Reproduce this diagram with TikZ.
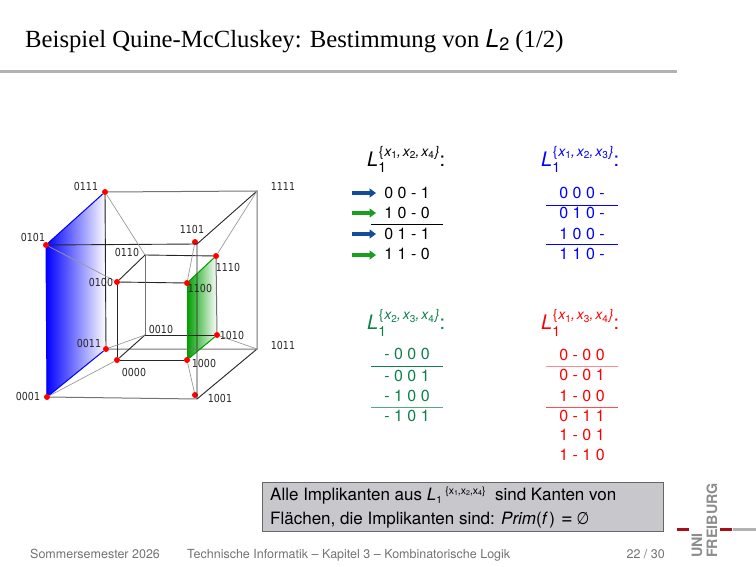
\documentclass[tikz,border=0pt]{standalone}
\usepackage{fontspec}
\setmainfont{Liberation Serif}
\newfontfamily\hv{TeX Gyre Heros}
\newfontfamily\djv[FakeStretch=0.86]{DejaVu Sans}
\usetikzlibrary{arrows.meta}
\definecolor{tgreen}{rgb}{0.05,0.5,0.3}
\definecolor{boxgray}{rgb}{0.78,0.78,0.8}
\definecolor{frgray}{rgb}{0.7,0.7,0.7}
\definecolor{footgray}{rgb}{0.45,0.45,0.45}
\definecolor{unired}{rgb}{0.66,0.05,0.1}
\definecolor{arrblue}{rgb}{0.08,0.3,0.6}
\definecolor{arrgreen}{rgb}{0.1,0.62,0.12}
\definecolor{facegreen}{rgb}{0,0.62,0}
\newcommand\fs[1]{\fontsize{#1}{#1}\selectfont}
\newcommand\Lhead[3]{{\hv\fs{20}\itshape L}\rlap{\raisebox{-6pt}{\hv\fs{14}1}}\kern0.5pt\raisebox{10.5pt}{\hv\fs{14}\{\kern1pt\itshape x\raisebox{-2.5pt}{\upshape\fs{10}#1},\kern2pt x\raisebox{-2.5pt}{\upshape\fs{10}#2},\kern2pt x\raisebox{-2.5pt}{\upshape\fs{10}#3}\kern1pt\}}{\hv\fs{20}:}}
\tikzset{
  x=1pt,y=-1pt,
  dot/.style={circle,fill=red,inner sep=0pt,minimum size=6pt},
  vlabel/.style={font=\djv\fs{11},inner sep=0pt,text=black!85},
  edgeb/.style={draw=black!85,line width=0.9pt},
  edgeg/.style={draw=black!55,line width=1pt},
  edgec/.style={draw=black!40,line width=0.7pt},
  rowtext/.style={font=\hv\fs{16},inner sep=0pt},
  heading/.style={anchor=base west,inner sep=0pt},
  tabrule/.style={line width=0.7pt},
  arrowb/.style={-{Triangle[length=6.5pt,width=9pt]},line width=3.4pt,draw=arrblue},
  arrowg/.style={-{Triangle[length=6.5pt,width=9pt]},line width=3.4pt,draw=arrgreen},
  foot/.style={font=\hv\fs{12.5},text=footgray,inner sep=0pt,anchor=base west},
  logotext/.style={rotate=90,anchor=base west,inner sep=0pt,font=\hv\bfseries\fs{14.3},text=black!45},
}
\begin{document}
\begin{tikzpicture}
\useasboundingbox (0,0) rectangle (756,567);
% vertices
\coordinate (c0111) at (105,192);
\coordinate (c0101) at (46,245);
\coordinate (c0011) at (106,349);
\coordinate (c0001) at (47,397);
\coordinate (c1100) at (187,283);
\coordinate (c1110) at (216,256);
\coordinate (c1010) at (217,335);
\coordinate (c1000) at (187,360);
\coordinate (c1111) at (257,191);
\coordinate (c1011) at (257,349);
\coordinate (c1101) at (197,244);
\coordinate (c1001) at (197,399);
% shaded faces
\fill[left color=blue,middle color=blue!62!white,right color=white] (c0101) -- (c0111) -- (c0011) -- (c0001) -- cycle;
\fill[left color=facegreen,middle color=facegreen!62!white,right color=white] (c1100) -- (c1110) -- (c1010) -- (c1000) -- cycle;
% dots
\node[dot] (v0111) at (c0111) {};
\node[dot] (v0101) at (c0101) {};
\node[dot] (v0011) at (c0011) {};
\node[dot] (v0001) at (c0001) {};
\node[dot] (v1101) at (195,242) {};
\node[dot] (v1001) at (195,395) {};
\node[dot] (v0100) at (117,282) {};
\node[dot] (v1100) at (c1100) {};
\node[dot] (v0000) at (117,360) {};
\node[dot] (v1000) at (c1000) {};
\node[dot] (v1110) at (c1110) {};
\node[dot] (v1010) at (c1010) {};
\coordinate (v0110) at (145,255);
\coordinate (v0010) at (145,335);
% outer cube
\draw[edgeb] (v0101) -- (c1101) -- (c1001);
\draw[edgeg] (v0001) -- (c1001);
\draw[edgeb] (c1101) -- (c1111);
\draw[edgeb] (c1001) -- (c1011);
\draw[edgeg] (v0111) -- (c1111) -- (c1011) -- (v0011);
\draw[edgeb] (v0111) -- (v0011);
\draw[blue,line width=1pt] (v0101) -- (v0111);
\draw[blue,line width=1pt] (v0001) -- (v0011);
\draw[blue,line width=1pt] (v0101) -- (v0001);
% inner cube
\draw[edgeb] (v0100) -- (v1100);
\draw[edgeb] (v1100) -- (v1000) -- (v0000) -- (v0100);
\draw[edgeb] (v0100) -- (v0110);
\draw[edgeb] (v0000) -- (v0010);
\draw[edgeb] (v0110) -- (v1110);
\draw[edgeg] (v1110) -- (v1010);
\draw[edgeb] (v1010) -- (v0010);
\draw[edgeg] (v0010) -- (v0110);
\draw[facegreen,line width=1pt] (v1100) -- (v1110);
\draw[facegreen,line width=1pt] (v1000) -- (v1010);
\draw[facegreen,line width=1pt] (v1100) -- (v1000);
% connecting edges
\draw[edgec] (v0111) -- (v0110);
\draw[edgec] (c1111) -- (v1110);
\draw[edgec] (v0011) -- (v0010);
\draw[edgec] (c1011) -- (v1010);
\draw[edgec] (v0101) -- (v0100);
\draw[edgec] (v1101) -- (v1100);
\draw[edgec] (v0001) -- (v0000);
\draw[edgec] (v1001) -- (v1000);
% labels
\node[vlabel] (l0111) at (86,186) {0111};
\node[vlabel] (l1111) at (283,186) {1111};
\node[vlabel] (l1101) at (192,229) {1101};
\node[vlabel] (l0101) at (33,237) {0101};
\node[vlabel] (l0110) at (127,252) {0110};
\node[vlabel] (l1110) at (228,267) {1110};
\node[vlabel] (l0100) at (101,282) {0100};
\node[vlabel] (l1100) at (200,288) {1100};
\node[vlabel] (l0010) at (161,329) {0010};
\node[vlabel] (l1010) at (232,335) {1010};
\node[vlabel] (l0011) at (89,343) {0011};
\node[vlabel] (l1011) at (283,345) {1011};
\node[vlabel] (l0000) at (134,372) {0000};
\node[vlabel] (l1000) at (204,363) {1000};
\node[vlabel] (l0001) at (28,396) {0001};
\node[vlabel] (l1001) at (220,398) {1001};
% title
\node[anchor=base west,inner sep=0pt,font=\fs{24.7}] (title) at (25,47.5) {Beispiel Quine-McCluskey: Bestimmung von {\hv\itshape L}\raisebox{-3.5pt}{\hv\fs{18}2} (1/2)};
\fill[frgray] (0,70.5) rectangle (677,73.5);
% table 1
\node[heading] (h1) at (367,167) {\Lhead{1}{2}{4}};
\node[rowtext] (a1) at (407,193) {0 0 - 1};
\node[rowtext] (a2) at (407,213) {1 0 - 0};
\node[rowtext] (a3) at (407,234) {0 1 - 1};
\node[rowtext] (a4) at (407,254) {1 1 - 0};
\draw[tabrule] (371,224.3) -- (443,224.3);
\coordinate (s1) at (352,193);\coordinate (e1) at (376,193);
\coordinate (s2) at (352,213);\coordinate (e2) at (376,213);
\coordinate (s3) at (352,234);\coordinate (e3) at (376,234);
\coordinate (s4) at (352,255);\coordinate (e4) at (376,255);
\draw[arrowb] (s1) -- (e1);
\draw[arrowg] (s2) -- (e2);
\draw[arrowb] (s3) -- (e3);
\draw[arrowg] (s4) -- (e4);
% table 2
\node[heading,text=blue] (h2) at (541,167) {\Lhead{1}{2}{3}};
\node[rowtext,text=blue] (b1) at (582,193) {0 0 0 -};
\node[rowtext,text=blue] (b2) at (582,213) {0 1 0 -};
\node[rowtext,text=blue] (b3) at (582,234) {1 0 0 -};
\node[rowtext,text=blue] (b4) at (582,254) {1 1 0 -};
\draw[tabrule,blue] (546,205) -- (618,205);
\draw[tabrule,blue] (546,244.3) -- (618,244.3);
% table 3
\node[heading,text=tgreen] (h3) at (367,330) {\Lhead{2}{3}{4}};
\node[rowtext,text=tgreen] (c1) at (407,354) {- 0 0 0};
\node[rowtext,text=tgreen] (c2) at (407,376) {- 0 0 1};
\node[rowtext,text=tgreen] (c3) at (407,396) {- 1 0 0};
\node[rowtext,text=tgreen] (c4) at (407,416) {- 1 0 1};
\draw[tabrule,tgreen] (371,366.3) -- (443,366.3);
\draw[tabrule,tgreen!70!white,line width=1pt] (371,407) -- (443,407);
% table 4
\node[heading,text=red] (h4) at (541,330) {\Lhead{1}{3}{4}};
\node[rowtext,text=red] (d1) at (582,355) {0 - 0 0};
\node[rowtext,text=red] (d2) at (582,375) {0 - 0 1};
\node[rowtext,text=red] (d3) at (582,396) {1 - 0 0};
\node[rowtext,text=red] (d4) at (582,416) {0 - 1 1};
\node[rowtext,text=red] (d5) at (582,435) {1 - 0 1};
\node[rowtext,text=red] (d6) at (582,455) {1 - 1 0};
\draw[tabrule,red!45!white,line width=1.2pt] (546,366.5) -- (618,366.5);
\draw[tabrule,red!70!white,line width=1pt] (546,407) -- (618,407);
% note box
\fill[boxgray,draw=black!60,line width=0.8pt] (262,482) rectangle (663,531);
\node[anchor=base west,inner sep=0pt,font=\hv\fs{17}] (n1) at (270,500) {Alle Implikanten aus {\itshape L}\rlap{\raisebox{-3pt}{\fs{10}1}}\kern9pt\raisebox{6pt}{\fs{10.5}\{x\raisebox{-1.5pt}{\fs{7}1},x\raisebox{-1.5pt}{\fs{7}2},x\raisebox{-1.5pt}{\fs{7}4}\}}\ \ sind Kanten von};
\node[anchor=base west,inner sep=0pt,font=\hv\fs{17}] (n2) at (270,524) {Flächen, die Implikanten sind: {\itshape Prim}({\itshape f}\,)\kern6pt{\fs{20}=}\kern4pt{\djv\fs{17}∅}};
% footer
\node[foot] (f1) at (30,558) {Sommersemester 2026};
\node[foot] (f2) at (187,558) {Technische Informatik – Kapitel 3 – Kombinatorische Logik};
\node[foot,anchor=base east] (f3) at (665,558) {22 / 30};
% logo
\node[logotext] (u1) at (702,558) {UNI};
\node[logotext] (u2) at (717,558) {FREIBURG};
\fill[unired] (677,527.5) rectangle (689,530.5);
\fill[unired] (720,527.5) rectangle (732,530.5);
\fill[black!30] (733,527.5) rectangle (756,530.5);
\end{tikzpicture}
\end{document}
